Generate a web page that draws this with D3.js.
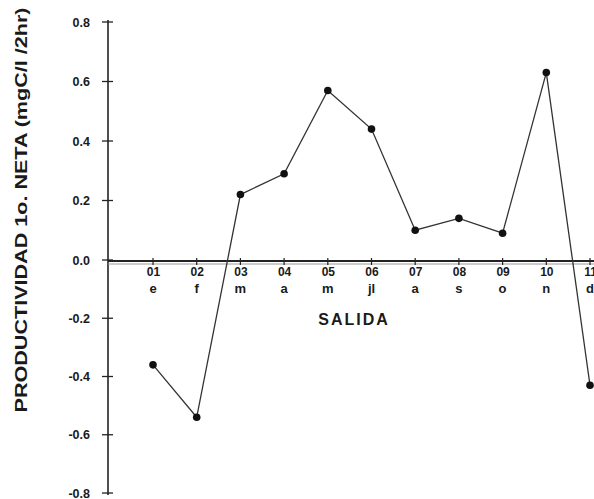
<!DOCTYPE html>
<meta charset="utf-8">
<head>
    <title>Productividad neta</title>
    <script type="text/javascript" src="https://d3js.org/d3.v7.min.js"></script>
    <style>
        body { margin: 0; background: #fff; }
        text { font-family: "Liberation Sans", Arial, sans-serif; fill: #1a1a1a; }
    </style>
</head>
<body>
<script>
    // data
    var salidas = ["01","02","03","04","05","06","07","08","09","10","11"]
    var meses = ["e","f","m","a","m","jl","a","s","o","n","d"]
    var productividad = [-0.36, -0.54, 0.22, 0.29, 0.57, 0.44, 0.10, 0.14, 0.09, 0.63, -0.43]
    var yTicks = [0.8, 0.6, 0.4, 0.2, 0.0, -0.2, -0.4, -0.6, -0.8]

    var width = 594, height = 499

    var svg = d3.select('body').append('svg')
        .attr('width', width)
        .attr('height', height)

    var x = d3.scalePoint()
        .domain(salidas)
        .range([153, 590])

    // the scanned axis is slightly uneven: 0 sits a bit low
    var y = d3.scaleLinear()
        .domain([-0.8, 0, 0.8])
        .range([493, 260, 22])

    var axisX = 108

    // y axis
    var yAxis = d3.axisLeft(y)
        .tickValues(yTicks)
        .tickSize(0)
        .tickPadding(18)
        .tickFormat(function(d){ return d3.format(".1f")(d).replace("−", "-") })

    var gy = svg.append('g')
        .attr('transform', 'translate(' + axisX + ',0)')
        .call(yAxis)
    gy.select('.domain').remove()
    gy.selectAll('text')
        .attr('font-size', 12.5)
        .attr('font-weight', 'bold')
        .style('font-family', '"Liberation Sans", Arial, sans-serif')
        .attr('fill', '#1a1a1a')

    svg.append('line')
        .attr('x1', axisX).attr('x2', axisX)
        .attr('y1', y(0.8) - 2).attr('y2', y(-0.8) + 2)
        .attr('stroke', '#222').attr('stroke-width', 1.6)

    svg.selectAll('.ytick')
        .data(yTicks)
        .enter()
        .append('line')
        .attr('x1', axisX - 6).attr('x2', axisX + 5)
        .attr('y1', function(d){ return y(d) })
        .attr('y2', function(d){ return y(d) })
        .attr('stroke', '#222').attr('stroke-width', 1.3)

    // x axis (double rule at zero)
    svg.append('line')
        .attr('x1', axisX).attr('x2', width)
        .attr('y1', y(0) + 1).attr('y2', y(0) + 1)
        .attr('stroke', '#222').attr('stroke-width', 1.8)
    svg.append('line')
        .attr('x1', axisX).attr('x2', width)
        .attr('y1', y(0) + 4).attr('y2', y(0) + 4)
        .attr('stroke', '#999').attr('stroke-width', 1)

    var xAxis = d3.axisBottom(x).tickSize(0).tickPadding(7)
    var gx = svg.append('g')
        .attr('transform', 'translate(0,' + y(0) + ')')
        .call(xAxis)
    gx.select('.domain').remove()
    gx.selectAll('text')
        .attr('font-size', 12)
        .attr('font-weight', 'bold')
        .style('font-family', '"Liberation Sans", Arial, sans-serif')
        .attr('fill', '#1a1a1a')

    svg.selectAll('.xtick')
        .data(salidas)
        .enter()
        .append('line')
        .attr('x1', function(d){ return x(d) })
        .attr('x2', function(d){ return x(d) })
        .attr('y1', y(0) - 2).attr('y2', y(0) + 5)
        .attr('stroke', '#222').attr('stroke-width', 1.2)

    svg.selectAll('.mes')
        .data(meses)
        .enter()
        .append('text')
        .attr('x', function(d, i){ return x(salidas[i]) })
        .attr('y', y(0) + 33)
        .attr('text-anchor', 'middle')
        .attr('font-size', 13)
        .attr('font-weight', 'bold')
        .text(function(d){ return d })

    svg.append('text')
        .attr('x', 354)
        .attr('y', 325)
        .attr('text-anchor', 'middle')
        .attr('font-size', 16)
        .attr('font-weight', 'bold')
        .attr('letter-spacing', 2)
        .text('SALIDA')

    svg.append('text')
        .attr('transform', 'translate(27,210) rotate(-90)')
        .attr('text-anchor', 'middle')
        .attr('font-size', 16)
        .attr('font-weight', 'bold')
        .attr('textLength', 405)
        .attr('lengthAdjust', 'spacingAndGlyphs')
        .text('PRODUCTIVIDAD 1o. NETA (mgC/l /2hr)')

    // line and points
    var line = d3.line()
        .x(function(d, i){ return x(salidas[i]) })
        .y(function(d){ return y(d) })

    svg.append('path')
        .datum(productividad)
        .attr('d', line)
        .attr('fill', 'none')
        .attr('stroke', '#333')
        .attr('stroke-width', 1.3)

    svg.selectAll('.pt')
        .data(productividad)
        .enter()
        .append('circle')
        .attr('cx', function(d, i){ return x(salidas[i]) })
        .attr('cy', function(d){ return y(d) })
        .attr('r', 3.8)
        .attr('fill', '#111')
</script>
</body>
</html>
